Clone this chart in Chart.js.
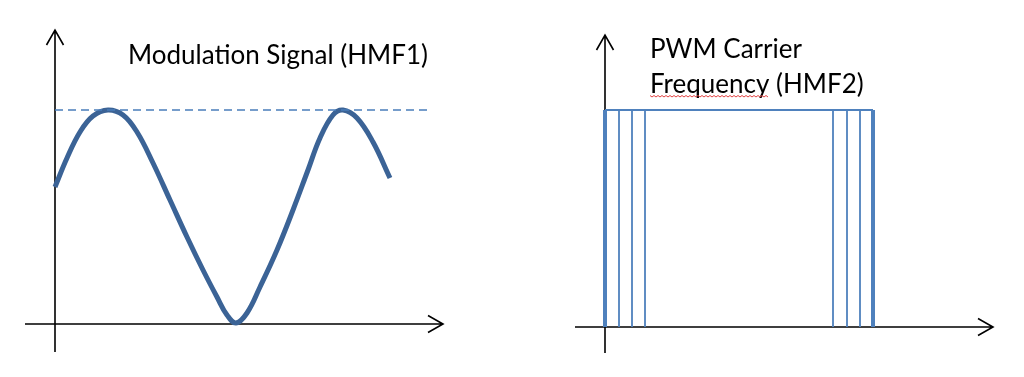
<!DOCTYPE html>
<html>
<head>
<meta charset="utf-8">
<script src="https://cdn.jsdelivr.net/npm/chart.js@4/dist/chart.umd.min.js"></script>
<style>
  html, body { margin: 0; padding: 0; background: #fff; }
  #wrap { position: relative; width: 1024px; height: 377px; overflow: hidden; }
  .panel { position: absolute; top: 0; width: 512px; height: 377px; }
</style>
</head>
<body>
<div id="wrap">
  <div class="panel" style="left:0"><canvas id="modChart" width="512" height="377"></canvas></div>
  <div class="panel" style="left:512px"><canvas id="pwmChart" width="512" height="377"></canvas></div>
</div>
<script>
// modulation signal (HMF1)
const sineX = [0, 1.2, 2.5, 3.8, 5.3, 6.8, 8.2, 9.8, 11.5, 13.2, 14.8, 16.2, 17.2, 18.1,
               19.2, 20.5, 22.2, 23.8, 25.3, 26.5, 27.8, 28.8, 30.2, 31.8, 33.5];
const sineY = [13.7, 16.6, 19.2, 20.8, 21.4, 20.9, 19.2, 16.1, 12.4, 8.7, 5.4, 2.7, 0.9, 0.1,
               1.1, 3.7, 7.4, 11.4, 15.4, 18.6, 20.9, 21.4, 20.6, 18.2, 14.6];
const peakLevel = 21.4;
const peakLineEnd = 37.5;

// PWM carrier (HMF2)
const pulseEdges = [0, 1.4, 2.7, 4.0, 22.8, 24.2, 25.5, 26.8];
const pulseLevel = 21.7;

const titleMod = ['Modulation Signal (HMF1)'];
const titlePwm = ['PWM Carrier', 'Frequency (HMF2)'];

const lineBlue = '#4f81bd';
const darkBlue = '#3b6396';

function pts(xs, ys) {
    return xs.map(function(x, i) { return { x: x, y: ys[i] }; });
}

// draws the two axes through (0,0) with open arrow heads, plus the text labels
const axesPlugin = {
    id: 'arrowAxes',
    beforeDatasetsDraw: function(chart, args, opts) {
        const ctx = chart.ctx;
        const area = chart.chartArea;
        const x0 = chart.scales.x.getPixelForValue(0);
        const y0 = chart.scales.y.getPixelForValue(0);
        ctx.save();
        ctx.strokeStyle = '#000';
        ctx.lineWidth = 1.6;
        ctx.beginPath();
        ctx.moveTo(area.left, y0);
        ctx.lineTo(area.right, y0);
        ctx.moveTo(x0, area.bottom);
        ctx.lineTo(x0, area.top);
        // x arrow
        ctx.moveTo(area.right - 15, y0 - 8.5);
        ctx.lineTo(area.right, y0);
        ctx.lineTo(area.right - 15, y0 + 8.5);
        // y arrow
        ctx.moveTo(x0 - 8.5, area.top + 15);
        ctx.lineTo(x0, area.top);
        ctx.lineTo(x0 + 8.5, area.top + 15);
        ctx.stroke();
        ctx.restore();
    },
    afterDraw: function(chart, args, opts) {
        const ctx = chart.ctx;
        ctx.save();
        ctx.fillStyle = '#000';
        ctx.font = opts.font;
        ctx.textBaseline = 'alphabetic';
        opts.lines.forEach(function(t, i) {
            ctx.fillText(t, opts.x, opts.y + i * opts.lineHeight);
        });
        if (opts.squiggle) {
            // spell-check underline under the first word of the 2nd line
            const w = ctx.measureText(opts.lines[1].split(' ')[0]).width;
            const sy = opts.y + opts.lineHeight + 3;
            ctx.strokeStyle = '#e04040';
            ctx.lineWidth = 1;
            ctx.beginPath();
            for (let sx = 0; sx <= w; sx += 2) {
                const yy = sy + ((sx / 2) % 2 ? 1 : -0.5);
                if (sx === 0) ctx.moveTo(opts.x + sx, yy); else ctx.lineTo(opts.x + sx, yy);
            }
            ctx.stroke();
        }
        ctx.restore();
    }
};

function baseOptions(pad, xr, yr, text) {
    return {
        responsive: false,
        animation: false,
        devicePixelRatio: 1,
        layout: { padding: pad },
        scales: {
            x: { type: 'linear', display: false, min: xr[0], max: xr[1] },
            y: { type: 'linear', display: false, min: yr[0], max: yr[1] }
        },
        elements: { point: { radius: 0 } },
        plugins: {
            legend: { display: false },
            tooltip: { enabled: false },
            arrowAxes: text
        }
    };
}

new Chart(document.getElementById('modChart'), {
    type: 'scatter',
    data: {
        datasets: [{
            data: [{ x: 0, y: peakLevel }, { x: peakLineEnd, y: peakLevel }],
            showLine: true,
            borderColor: '#4a7ebb',
            borderWidth: 1.6,
            borderDash: [8, 5]
        }, {
            data: pts(sineX, sineY),
            showLine: true,
            borderColor: darkBlue,
            borderWidth: 5,
            tension: 0.4,
            borderCapStyle: 'butt'
        }]
    },
    options: baseOptions({ left: 25, right: 69, top: 30, bottom: 25 }, [-3.0, 38.8], [-2.8, 29.4],
        { lines: titleMod, x: 128, y: 64, lineHeight: 35, font: '26px Lato' }),
    plugins: [axesPlugin]
});

const pwmSets = [{
    data: [{ x: pulseEdges[0], y: pulseLevel }, { x: pulseEdges[pulseEdges.length - 1], y: pulseLevel }],
    showLine: true,
    borderColor: lineBlue,
    borderWidth: 2
}];
pulseEdges.forEach(function(e, i) {
    const outer = i === 0 || i === pulseEdges.length - 1;
    pwmSets.push({
        data: [{ x: e, y: 0 }, { x: e, y: pulseLevel }],
        showLine: true,
        borderColor: lineBlue,
        borderWidth: outer ? 4 : 1.8
    });
});

new Chart(document.getElementById('pwmChart'), {
    type: 'scatter',
    data: { datasets: pwmSets },
    options: baseOptions({ left: 63, right: 31, top: 35, bottom: 24 }, [-3.0, 38.8], [-2.6, 29.2],
        { lines: titlePwm, x: 138, y: 58, lineHeight: 35, font: '26px Lato', squiggle: true }),
    plugins: [axesPlugin]
});
</script>
</body>
</html>
